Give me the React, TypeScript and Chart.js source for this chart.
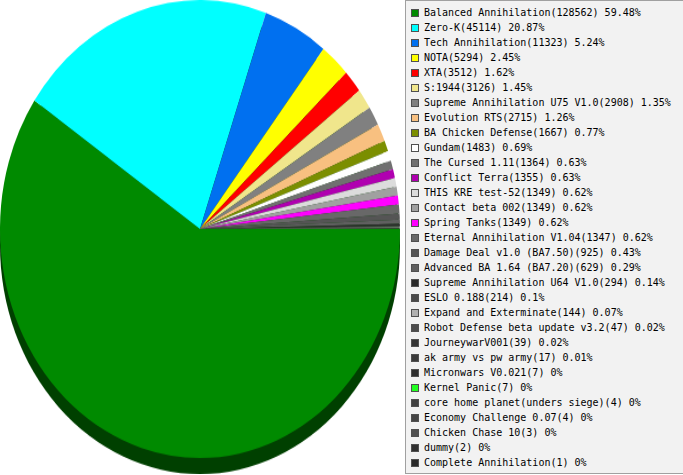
import React, { useEffect, useRef } from "react";
import { Chart, registerables } from "chart.js";

Chart.register(...registerables);

const categories: string[] = [
  "Balanced Annihilation",
  "Zero-K",
  "Tech Annihilation",
  "NOTA",
  "XTA",
  "S:1944",
  "Supreme Annihilation U75 V1.0",
  "Evolution RTS",
  "BA Chicken Defense",
  "Gundam",
  "The Cursed 1.11",
  "Conflict Terra",
  "THIS KRE test-52",
  "Contact beta 002",
  "Spring Tanks",
  "Eternal Annihilation V1.04",
  "Damage Deal v1.0 (BA7.50)",
  "Advanced BA 1.64 (BA7.20)",
  "Supreme Annihilation U64 V1.0",
  "ESLO 0.188",
  "Expand and Exterminate",
  "Robot Defense beta update v3.2",
  "JourneywarV001",
  "ak army vs pw army",
  "Micronwars V0.021",
  "Kernel Panic",
  "core home planet(unders siege)",
  "Economy Challenge 0.07",
  "Chicken Chase 10",
  "dummy",
  "Complete Annihilation",
];

const values: number[] = [
  128562, 45114, 11323, 5294, 3512, 3126, 2908, 2715, 1667, 1483, 1364, 1355,
  1349, 1349, 1349, 1347, 925, 629, 294, 214, 144, 47, 39, 17, 7, 7, 4, 4, 3,
  2, 1,
];

const colors: string[] = [
  "#008a00", "#00ffff", "#0070f0", "#ffff00", "#ff0000", "#f0e68c", "#808080",
  "#f8c080", "#7b8e00", "#ffffff", "#707070", "#b000b0", "#dcdcdc", "#a0a0a0",
  "#ff00ff", "#686868", "#555555", "#606060", "#2a2a2a", "#4a4a4a", "#b0b0b0",
  "#4c4c4c", "#333333", "#3a3a3a", "#2e2e2e", "#22ff22", "#404040", "#444444",
  "#505050", "#303030", "#2a2a2a",
];

const total = values.reduce((a, b) => a + b, 0);
const pctLabel = (v: number) => String(Math.round((v / total) * 10000) / 100);

const shadowPlugin = {
  id: "pieShadow",
  beforeDatasetsDraw(chart: any) {
    const meta = chart.getDatasetMeta(0);
    const arc = meta.data[0];
    if (!arc) return;
    const { x, y, outerRadius } = arc.getProps(["x", "y", "outerRadius"], true);
    const ctx = chart.ctx;
    ctx.save();
    ctx.fillStyle = "#004000";
    ctx.beginPath();
    ctx.arc(x, y + 14, outerRadius, 0, Math.PI * 2);
    ctx.fill();
    ctx.restore();
  },
};

export default function App() {
  const ref = useRef<HTMLCanvasElement>(null);

  useEffect(() => {
    if (!ref.current) return;
    const chart = new Chart(ref.current, {
      type: "pie",
      data: {
        labels: categories,
        datasets: [
          {
            data: values,
            backgroundColor: colors,
            borderWidth: 0,
            hoverBorderWidth: 0,
            hoverOffset: 0,
            offset: 0,
          } as any,
        ],
      },
      options: {
        responsive: false,
        maintainAspectRatio: false,
        animation: false,
        devicePixelRatio: 1,
        rotation: 90,
        layout: { padding: { top: 0, left: 0, right: 0, bottom: 14 } },
        plugins: {
          legend: { display: false },
          tooltip: { enabled: false },
        },
      },
      plugins: [shadowPlugin],
    });
    return () => chart.destroy();
  }, []);

  return (
    <div
      style={{
        position: "absolute",
        left: 0,
        top: 0,
        width: 683,
        height: 475,
        overflow: "hidden",
        background: "#ffffff",
      }}
    >
      <canvas
        ref={ref}
        width={400}
        height={414}
        style={{ position: "absolute", left: 0, top: 0, width: 400, height: 474, display: "block" }}
      />
      <div
        style={{
          position: "absolute",
          left: 405,
          top: 0,
          width: 290,
          height: 474,
          boxSizing: "border-box",
          border: "1px solid #a0a0a0",
          background: "#f2f2f2",
          paddingTop: 4,
          fontFamily: "'DejaVu Sans Mono', monospace",
          fontSize: 10,
          color: "#000",
        }}
      >
        {categories.map((c, i) => (
          <div
            key={i}
            style={{ height: 15, display: "flex", alignItems: "center", whiteSpace: "nowrap" }}
          >
            <span
              style={{
                display: "inline-block",
                width: 6,
                height: 6,
                marginLeft: 5,
                marginRight: 5,
                border: "1px solid #505050",
                background: colors[i],
              }}
            />
            <span>{`${c}(${values[i]}) ${pctLabel(values[i])}%`}</span>
          </div>
        ))}
      </div>
    </div>
  );
}
